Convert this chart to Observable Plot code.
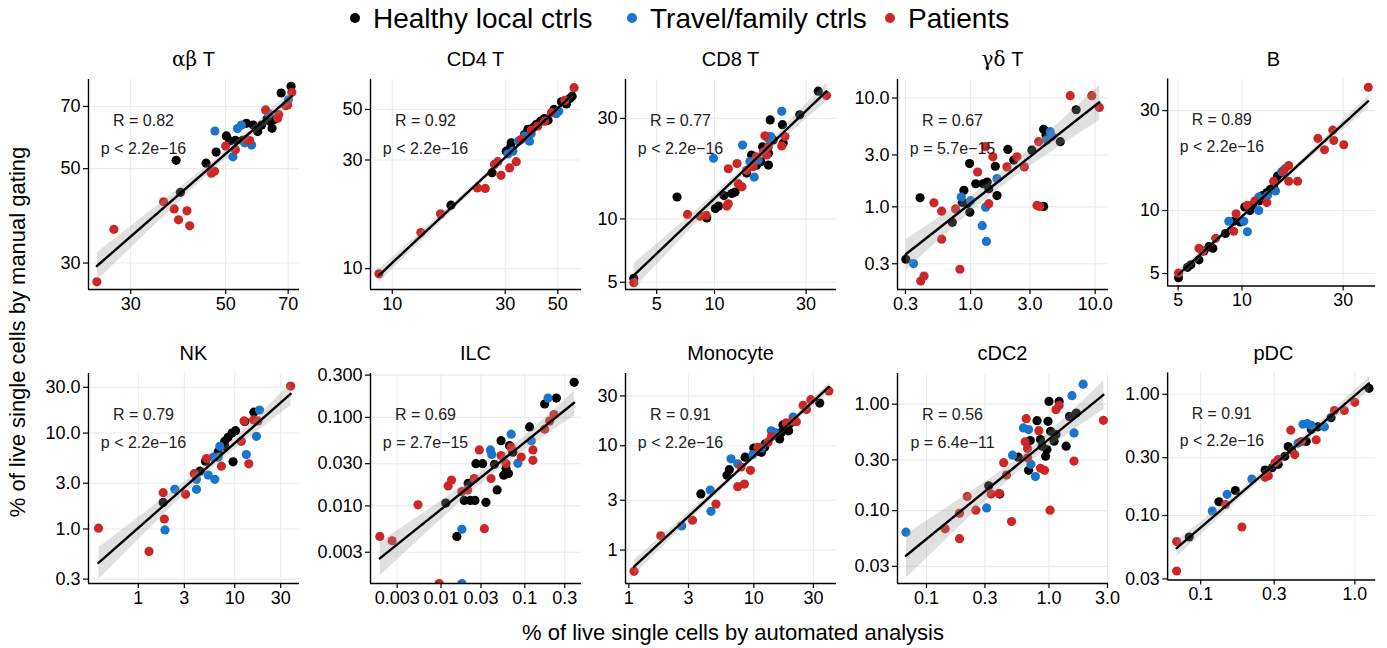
<!DOCTYPE html>
<html><head><meta charset="utf-8">
<script src="https://cdn.jsdelivr.net/npm/d3@7"></script>
<script src="https://cdn.jsdelivr.net/npm/@observablehq/plot@0.6"></script>
<style>
html,body{margin:0;padding:0;background:#fff;}
body{font-family:"Liberation Sans",Arial,Helvetica,sans-serif;color:#000;}
#root{position:relative;width:1387px;height:648px;overflow:hidden;background:#fff;}
.panel{position:absolute;}
.ptitle{position:absolute;width:211px;text-align:center;font-size:20px;line-height:20px;white-space:nowrap;}
.greek{font-family:"DejaVu Serif","Liberation Serif",serif;}
.li{position:absolute;top:3px;height:32px;display:flex;align-items:center;font-size:28px;white-space:nowrap;}
.sw{position:absolute;width:10px;height:10px;border-radius:50%;top:13px;}
#ytitle{position:absolute;left:-282px;top:320px;width:600px;text-align:center;font-size:22px;line-height:24px;transform:rotate(-90deg);}
#xtitle{position:absolute;left:433px;top:621px;width:600px;text-align:center;font-size:22px;line-height:24px;}
</style></head>
<body><div id="root"></div>
<script>
// ---------- groups ----------
const groupNames = ["Healthy local ctrls", "Travel/family ctrls", "Patients"];
const groupColors = ["#000000", "#1874CD", "#CD2626"];

// ---------- panels ----------
const panelNames = ["αβ T", "CD4 T", "CD8 T", "γδ T", "B", "NK", "ILC", "Monocyte", "cDC2", "pDC"];
const rLabels = ["R = 0.82", "R = 0.92", "R = 0.77", "R = 0.67", "R = 0.89", "R = 0.79", "R = 0.69", "R = 0.91", "R = 0.56", "R = 0.91"];
const pLabels = ["p < 2.2e−16", "p < 2.2e−16", "p < 2.2e−16", "p = 5.7e−15", "p < 2.2e−16", "p < 2.2e−16", "p = 2.7e−15", "p < 2.2e−16", "p = 6.4e−11", "p < 2.2e−16"];

const xTicks = [[30, 50, 70], [10, 30, 50], [5, 10, 30], [0.3, 1, 3, 10], [5, 10, 30], [1, 3, 10, 30], [0.003, 0.01, 0.03, 0.1, 0.3], [1, 3, 10, 30], [0.1, 0.3, 1, 3], [0.1, 0.3, 1]];
const xTickLabels = [["30", "50", "70"], ["10", "30", "50"], ["5", "10", "30"], ["0.3", "1.0", "3.0", "10.0"], ["5", "10", "30"], ["1", "3", "10", "30"], ["0.003", "0.01", "0.03", "0.1", "0.3"], ["1", "3", "10", "30"], ["0.1", "0.3", "1.0", "3.0"], ["0.1", "0.3", "1.0"]];
const yTicks = [[30, 50, 70], [10, 30, 50], [5, 10, 30], [0.3, 1, 3, 10], [5, 10, 30], [0.3, 1, 3, 10, 30], [0.003, 0.01, 0.03, 0.1, 0.3], [1, 3, 10, 30], [0.03, 0.1, 0.3, 1], [0.03, 0.1, 0.3, 1]];
const yTickLabels = [["30", "50", "70"], ["10", "30", "50"], ["5", "10", "30"], ["0.3", "1.0", "3.0", "10.0"], ["5", "10", "30"], ["0.3", "1.0", "3.0", "10.0", "30.0"], ["0.003", "0.010", "0.030", "0.100", "0.300"], ["1", "3", "10", "30"], ["0.03", "0.10", "0.30", "1.00"], ["0.03", "0.10", "0.30", "1.00"]];
const xDomains = [[23.9, 74.4], [8.09, 63.0], [3.44, 43.2], [0.259, 12.8], [4.46, 42.7], [0.304, 47.0], [0.00144, 0.475], [0.94, 45.9], [0.058, 3.06], [0.061, 1.365]];
const yDomains = [[26.0, 81.0], [8.1, 67.7], [4.62, 45.9], [0.174, 14.8], [4.36, 42.5], [0.270, 41.8], [0.00133, 0.313], [0.478, 49.2], [0.0207, 1.94], [0.0294, 1.50]];

// ---------- data: [automated, manual] ----------
const abT_healthy = [[38.3,52.3],[39.2,44.0],[45.0,51.5],[47.5,54.7],[50.2,59.7],[51.1,58.1],[52.7,58.3],[54.8,58.3],[55.9,63.9],[58.0,63.3],[59.4,61.1],[60.7,63.3],[62.5,65.5],[63.5,64.5],[64.2,62.2],[65.0,65.2],[67.4,75.3],[71.1,78.1]];
const abT_travel = [[47.2,61.3],[52.0,53.3],[53.3,62.1],[54.4,63.3],[55.4,57.5],[57.5,56.8],[63.1,67.3],[70.1,72.6]];
const abT_patients = [[25.0,27.1],[27.4,36.0],[35.8,41.8],[37.9,40.2],[38.8,37.9],[40.6,39.8],[41.2,36.7],[46.3,48.8],[47.1,49.3],[50.0,56.5],[52.7,55.4],[55.9,58.6],[56.9,58.2],[62.0,68.7],[66.2,65.7],[66.5,67.0],[69.1,70.3],[69.8,70.6],[71.4,75.6]];

const cd4_healthy = [[17.7,19.0],[26.4,26.4],[30.3,32.8],[31.6,34.2],[31.8,35.7],[36.2,38.8],[37.4,40.9],[39.3,41.6],[40.6,43.0],[42.3,44.4],[44.0,45.6],[45.5,44.8],[48.2,50.0],[51.8,54.0],[54.4,52.9],[56.2,55.9],[57.5,57.2]];
const cd4_travel = [[30.8,31.9],[32.3,32.8],[34.1,36.3],[36.2,38.2],[38.0,36.3],[38.6,39.1],[49.3,47.9],[50.5,49.2]];
const cd4_patients = [[8.78,9.49],[13.2,14.4],[16.0,17.4],[22.9,22.6],[24.7,22.5],[27.0,28.7],[27.9,29.5],[28.8,25.7],[31.3,27.7],[33.4,29.5],[35.0,36.9],[38.6,40.5],[41.2,42.3],[44.0,44.4],[47.0,48.4],[53.5,54.8],[58.6,62.3]];

const cd8_healthy = [[3.80,5.22],[6.38,12.7],[9.12,10.1],[10.1,11.2],[10.5,11.5],[11.2,12.9],[12.3,13.2],[12.8,13.4],[14.7,16.5],[15.6,20.1],[16.6,18.0],[17.4,18.7],[17.8,22.0],[19.1,20.5],[19.1,18.0],[19.5,29.5],[20.2,23.7],[22.6,28.0],[22.8,22.9],[27.8,31.2],[34.7,40.4]];
const cd8_travel = [[9.88,19.4],[14.0,22.4],[15.3,18.7],[16.1,15.8],[16.9,19.0],[19.1,24.1],[19.6,24.6],[22.4,32.4]];
const cd8_patients = [[3.80,4.98],[7.24,10.5],[8.43,10.3],[9.05,10.4],[11.6,11.5],[11.8,17.3],[11.8,11.8],[13.1,18.3],[13.3,14.7],[13.9,14.2],[14.7,17.0],[15.9,17.7],[16.5,19.7],[18.0,20.8],[18.3,24.8],[18.7,20.1],[19.1,22.0],[22.4,22.2],[23.3,24.6],[38.3,38.5]];

const gdT_healthy = [[0.302,0.330],[0.393,1.21],[0.713,0.721],[0.857,1.10],[0.884,1.42],[0.94,1.07],[0.981,2.50],[0.987,0.892],[1.10,1.63],[1.26,1.63],[1.36,1.69],[1.40,1.47],[1.58,2.36],[1.63,1.27],[1.99,3.37],[2.22,2.69],[3.11,3.32],[3.86,5.16],[3.86,1.01],[4.03,4.58],[5.25,3.97],[7.04,7.80]];
const gdT_travel = [[0.348,0.301],[0.841,1.23],[1.0,1.14],[1.24,0.672],[1.32,0.993],[1.34,0.481],[1.63,1.82],[4.10,4.11],[4.36,4.91],[4.50,4.42]];
const gdT_patients = [[0.398,0.208],[0.423,0.231],[0.508,1.09],[0.586,0.912],[0.586,0.505],[0.758,0.958],[0.821,0.267],[1.14,2.09],[1.32,3.57],[1.40,1.07],[1.51,2.88],[1.96,2.33],[2.36,2.88],[2.70,2.33],[3.41,1.03],[3.52,3.97],[3.58,1.01],[6.31,10.5],[9.40,10.5],[10.8,8.20]];

const b_healthy = [[5.02,4.77],[5.53,5.35],[5.74,5.51],[6.27,5.81],[6.62,6.41],[6.99,6.72],[7.29,6.60],[8.36,7.77],[9.14,8.88],[9.82,8.81],[10.3,10.4],[10.9,10.0],[11.2,10.6],[12.0,11.1],[12.5,11.8],[13.1,12.2],[13.6,12.6],[14.1,12.9],[14.3,13.8],[14.7,14.6],[15.4,15.2]];
const b_travel = [[8.66,8.88],[10.2,8.88],[10.6,7.91],[12.0,10.0],[12.0,11.6],[13.2,11.8],[14.4,12.4],[15.4,15.3],[15.9,15.8]];
const b_patients = [[5.02,5.03],[6.27,6.60],[6.50,6.37],[7.51,7.36],[9.14,7.96],[9.38,9.65],[10.6,10.6],[11.5,11.1],[13.1,10.9],[14.1,13.8],[15.7,15.4],[16.6,16.4],[16.6,13.8],[18.3,13.8],[22.8,22.1],[24.5,19.5],[26.8,24.2],[27.1,21.6],[30.2,20.6],[39.4,38.8]];

const nk_healthy = [[1.81,1.89],[4.35,4.01],[4.97,5.09],[6.72,6.36],[7.88,8.20],[7.88,7.28],[8.53,9.02],[9.39,10.0],[9.61,5.01],[10.2,10.6],[12.7,13.2],[15.8,16.5]];
const nk_travel = [[1.89,0.977],[2.39,2.59],[4.01,3.29],[4.01,2.59],[5.30,3.65],[5.97,5.60],[6.21,3.29],[6.72,5.60],[7.00,7.28],[13.2,5.97],[16.8,9.24],[18.1,17.4]];
const nk_patients = [[0.386,1.02],[1.29,0.583],[1.81,2.39],[1.86,1.27],[3.09,2.30],[3.80,3.77],[5.09,5.43],[7.28,4.52],[11.7,8.20],[12.5,13.4],[14.0,4.78],[15.7,13.7],[17.4,13.4],[38.0,30.9]];

const ilc_healthy = [[0.0114,0.01078],[0.01546,0.00452],[0.0189,0.01154],[0.0211,0.0180],[0.0223,0.01154],[0.0254,0.01154],[0.0261,0.030],[0.0314,0.030],[0.0344,0.01097],[0.0434,0.0295],[0.0467,0.01517],[0.0521,0.0545],[0.0561,0.02226],[0.0598,0.0264],[0.0638,0.0232],[0.0656,0.0479],[0.0720,0.0404],[0.114,0.078],[0.1726,0.1416],[0.2383,0.1652],[0.388,0.2487]];
const ilc_travel = [[0.01774,0.00545],[0.0388,0.0429],[0.0403,0.0381],[0.0687,0.0646],[0.0826,0.0303],[0.1194,0.0545],[0.1893,0.1652],[0.01774,0]];
const ilc_patients = [[0.00186,0.00452],[0.00261,0.00404],[0.00531,0.0103],[0.01217,0.0168],[0.01334,0.0196],[0.01774,0.01454],[0.02076,0.01517],[0.0249,0.0204],[0.02865,0.0429],[0.0329,0.00554],[0.0395,0.0204],[0.0521,0.0371],[0.0598,0.030],[0.0687,0.0460],[0.0906,0.0356],[0.125,0.0429],[0.125,0.0327],[0.1726,0.0734],[0.198,0.0909],[0.2234,0.1078],[0.00949,0]];

const mono_healthy = [[3.77,3.45],[6.10,5.21],[6.37,5.89],[8.52,7.76],[10.0,9.51],[10.8,8.84],[11.5,8.65],[12.2,9.64],[12.3,10.4],[16.1,11.6],[16.6,13.4],[17.1,15.8],[17.6,14.9],[19.0,13.9],[19.4,16.2],[33.7,25.6]];
const mono_travel = [[2.65,1.70],[4.48,3.76],[4.54,2.35],[6.57,7.48],[7.43,6.71],[9.82,8.23],[11.5,9.51],[13.8,13.9],[14.7,13.4],[20.6,18.8]];
const mono_patients = [[1.10,0.625],[1.80,1.37],[3.23,1.93],[4.98,2.76],[7.43,4.05],[8.41,4.29],[7.91,6.25],[9.40,5.81],[10.8,9.64],[13.0,10.8],[13.8,12.2],[18.2,16.6],[20.6,17.2],[21.9,17.0],[24.8,24.4],[26.4,22.2],[28.6,27.6],[39.9,33.5]];

const cdc2_healthy = [[0.322,0.171],[0.396,0.143],[0.562,0.318],[0.681,0.239],[0.703,0.455],[0.799,0.699],[0.852,0.465],[0.880,0.403],[0.938,0.325],[0.961,0.375],[0.981,0.690],[1.0,1.06],[1.03,0.556],[1.10,0.449],[1.14,0.518],[1.21,1.06],[1.38,0.403],[1.47,0.767],[1.67,0.824]];
const cdc2_travel = [[0.068,0.0628],[0.310,0.106],[0.504,0.332],[0.619,0.598],[0.681,0.577],[0.712,0.272],[0.774,0.209],[1.54,1.20],[1.60,0.537],[1.90,1.54]];
const cdc2_patients = [[0.142,0.0675],[0.186,0.0545],[0.186,0.0944],[0.215,0.136],[0.253,0.101],[0.337,0.143],[0.391,0.145],[0.427,0.282],[0.450,0.216],[0.495,0.079],[0.652,0.730],[0.639,0.443],[0.668,0.384],[0.668,0.314],[0.826,0.564],[0.852,0.250],[0.920,0.239],[1.02,0.101],[1.14,0.886],[1.21,0.972],[1.60,0.292],[2.78,0.705]];

const pdc_healthy = [[0.0842,0.0665],[0.1312,0.1297],[0.1679,0.161],[0.2616,0.2378],[0.2915,0.2484],[0.3185,0.2643],[0.3516,0.3084],[0.3693,0.3714],[0.388,0.349],[0.4843,0.4076],[0.5216,0.5126],[0.5756,0.5384],[0.7013,0.6403],[1.236,1.118]];
const pdc_travel = [[0.1188,0.109],[0.1483,0.1495],[0.2147,0.2000],[0.4281,0.3953],[0.4611,0.5656],[0.4916,0.5727],[0.5216,0.5556],[0.6353,0.5384]];
const pdc_patients = [[0.0698,0.0610],[0.0698,0.0349],[0.1447,0.1234],[0.185,0.0805],[0.2616,0.2063],[0.2748,0.2128],[0.3033,0.2725],[0.3185,0.290],[0.3841,0.506],[0.4076,0.318],[0.4497,0.4076],[0.5617,0.4204],[0.7368,0.734],[0.854,0.734],[1.0,0.857]];

const panelData = [
  [abT_healthy, abT_travel, abT_patients],
  [cd4_healthy, cd4_travel, cd4_patients],
  [cd8_healthy, cd8_travel, cd8_patients],
  [gdT_healthy, gdT_travel, gdT_patients],
  [b_healthy, b_travel, b_patients],
  [nk_healthy, nk_travel, nk_patients],
  [ilc_healthy, ilc_travel, ilc_patients],
  [mono_healthy, mono_travel, mono_patients],
  [cdc2_healthy, cdc2_travel, cdc2_patients],
  [pdc_healthy, pdc_travel, pdc_patients]
];

// ---------- layout ----------
const colLefts = [88, 370, 625, 897, 1168];
const rowTops = [79, 373];
const PW = 211, PH = 210, ML = 62, MR = 12, MT = 40, MB = 45;
const FONT = '"Liberation Sans", Arial, Helvetica, sans-serif';
const legendDotX = [355, 632, 890];

const root = document.getElementById("root");

// legend
groupNames.forEach((g, k) => {
  const sw = document.createElement("div"); sw.className = "sw";
  sw.style.background = groupColors[k];
  sw.style.left = (legendDotX[k] - 5) + "px";
  root.appendChild(sw);
  const it = document.createElement("div"); it.className = "li";
  it.style.left = (legendDotX[k] + 18) + "px";
  it.textContent = g;
  root.appendChild(it);
});

// axis titles
const yt = document.createElement("div"); yt.id = "ytitle"; yt.textContent = "% of live single cells by manual gating"; root.appendChild(yt);
const xt = document.createElement("div"); xt.id = "xtitle"; xt.textContent = "% of live single cells by automated analysis"; root.appendChild(xt);

function makePanel(i) {
  const xd = xDomains[i].map(Math.log10), yd = yDomains[i].map(Math.log10);
  const rows = [];
  panelData[i].forEach((arr, k) => {
    for (const [a, m] of arr) {
      const finite = a > 0 && m > 0;
      rows.push({
        group: groupNames[k],
        lx: a > 0 ? Math.log10(a) : xd[0],   // non-finite values are squished to the axis
        ly: m > 0 ? Math.log10(m) : yd[0],
        finite
      });
    }
  });
  const fit = rows.filter(d => d.finite);
  const xtv = xTicks[i].map(Math.log10), ytv = yTicks[i].map(Math.log10);
  const xl = xTickLabels[i], yl = yTickLabels[i];
  return Plot.plot({
    width: ML + PW + MR, height: MT + PH + MB,
    marginLeft: ML, marginRight: MR, marginTop: MT, marginBottom: MB,
    style: {fontFamily: FONT, fontSize: "18px", color: "#000", background: "transparent", overflow: "visible"},
    x: {type: "linear", domain: xd, label: null},
    y: {type: "linear", domain: yd, label: null},
    color: {domain: groupNames, range: groupColors},
    marks: [
      Plot.gridX(xtv, {stroke: "#ebebeb", strokeOpacity: 1, strokeWidth: 1.1}),
      Plot.gridY(ytv, {stroke: "#ebebeb", strokeOpacity: 1, strokeWidth: 1.1}),
      Plot.dot(rows, {x: "lx", y: "ly", fill: "group", r: 4.6, clip: true}),
      Plot.linearRegressionY(fit, {x: "lx", y: "ly", stroke: "#000", strokeWidth: 2.4, fill: "#999", fillOpacity: 0.3}),
      Plot.text([rLabels[i]], {text: d => d, frameAnchor: "top-left", dx: 55, dy: 35, textAnchor: "middle", fontSize: 16, fill: "#222"}),
      Plot.text([pLabels[i]], {text: d => d, frameAnchor: "top-left", dx: 55, dy: 63, textAnchor: "middle", fontSize: 16, fill: "#222"}),
      Plot.axisX(xtv, {tickFormat: d => xl[xtv.indexOf(d)], tickSize: 5, tickPadding: 3, fontSize: 18, label: null, strokeWidth: 1.2}),
      Plot.axisY(ytv, {tickFormat: d => yl[ytv.indexOf(d)], tickSize: 5, tickPadding: 3, fontSize: 18, label: null, strokeWidth: 1.2}),
      Plot.ruleX([xd[0]], {stroke: "#000", strokeWidth: 1.4}),
      Plot.ruleY([yd[0]], {stroke: "#000", strokeWidth: 1.4})
    ]
  });
}

panelNames.forEach((name, i) => {
  const col = i % 5, row = Math.floor(i / 5);
  const left = colLefts[col], top = rowTops[row];
  const svg = makePanel(i);
  const wrap = document.createElement("div");
  wrap.className = "panel";
  wrap.style.left = (left - ML) + "px";
  wrap.style.top = (top - MT) + "px";
  wrap.appendChild(svg);
  root.appendChild(wrap);
  const t = document.createElement("div");
  t.className = "ptitle";
  t.style.left = left + "px";
  t.style.top = (top - 30) + "px";
  const m = name.match(/^([α-ω]+)(.*)$/);
  if (m) {
    const g = document.createElement("span"); g.className = "greek"; g.textContent = m[1];
    t.appendChild(g); t.appendChild(document.createTextNode(m[2]));
  } else t.textContent = name;
  root.appendChild(t);
});
</script></body></html>
